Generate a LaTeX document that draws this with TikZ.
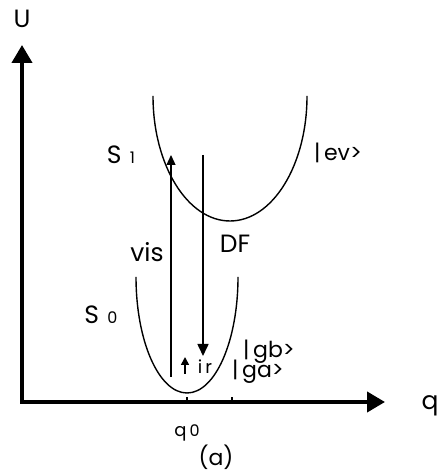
\documentclass[tikz,border=0pt]{standalone}
\usepackage{fontspec}
\setmainfont{Poppins}
\usetikzlibrary{arrows.meta}
\tikzset{
  lbl/.style={inner sep=0pt,font=\fontsize{12.5}{14}\selectfont},
  ketlbl/.style={inner sep=0pt,font=\fontsize{11}{13}\selectfont},
  smalllbl/.style={inner sep=0pt,font=\fontsize{9}{11}\selectfont},
  curve/.style={line width=0.7pt},
}
\newcommand{\subdig}[1]{{\fontsize{8}{9}\selectfont #1}}

\begin{document}
\begin{tikzpicture}[x=0.5pt,y=0.5pt]
  \useasboundingbox (0,0) rectangle (440,474);
  % axes
  \coordinate (O) at (22,72);
  \coordinate (qend) at (385,72);
  \coordinate (Uend) at (22,429);
  \draw[line width=2pt,{Triangle[length=9pt,width=10pt]}-{Triangle[length=9pt,width=10pt]}]
    (Uend) -- (O) -- (qend);
  \node[lbl] (U) at (22,455) {U};
  \node[lbl] (q) at (430,68) {q};
  \foreach \x/\nm in {187/qzero,232/qone}{
    \coordinate (\nm) at (\x,72);
    \draw[line width=0.6pt] (\nm) -- ++(0,5);
  }
  \node[smalllbl] (q0) at (187,41) {q\,\subdig{0}};
  \node[ketlbl] (cap) at (216,17) {(a)};
  % potential curves
  \draw[curve] (136,197) arc[start angle=180,end angle=360,x radius=51,y radius=116];
  \draw[curve] (153,378) arc[start angle=180,end angle=360,x radius=77,y radius=125];
  \node[lbl] (S1) at (121,319) {S\,\,\subdig{1}};
  \node[lbl] (S0) at (101,159) {S\,\,\subdig{0}};
  \node[ketlbl] (ev) at (338,321) {|\,ev>};
  \node[ketlbl] (gb) at (269,122) {|\,gb>};
  \node[ketlbl] (ga) at (258,102) {|\,ga>};
  % transitions
  \coordinate (visbot) at (171,97);
  \coordinate (vistop) at (171,319);
  \coordinate (DFtop) at (203,319);
  \coordinate (DFbot) at (203,118);
  \coordinate (irbot) at (185,100);
  \coordinate (irtop) at (185,117);
  \draw[line width=0.6pt,-{Triangle[length=5pt,width=4.5pt]}] (visbot) -- (vistop);
  \draw[line width=0.8pt,-{Triangle[length=6pt,width=5.5pt]}] (DFtop) -- (DFbot);
  \draw[line width=0.8pt,-{Triangle[length=4pt,width=4pt]}] (irbot) -- (irtop);
  \node[lbl] (vis) at (147,222) {vis};
  \node[lbl] (DF) at (235,230) {DF};
  \node[smalllbl] (ir) at (205,107) {i\,r};
\end{tikzpicture}
\end{document}
